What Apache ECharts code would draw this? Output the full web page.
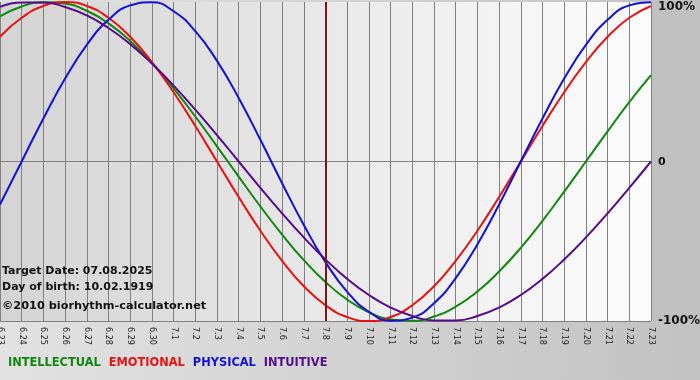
<!DOCTYPE html>
<html><head><meta charset="utf-8">
<script src="https://cdn.jsdelivr.net/npm/echarts@6/dist/echarts.min.js"></script>
<style>html,body{margin:0;padding:0;background:#d4d4d4;}#c{width:700px;height:380px;}</style>
</head><body><div id="c"></div>
<script>
const days = ['6.23','6.24','6.25','6.26','6.27','6.28','6.29','6.30','7.1','7.2','7.3','7.4','7.5','7.6','7.7','7.8','7.9','7.10','7.11','7.12','7.13','7.14','7.15','7.16','7.17','7.18','7.19','7.20','7.21','7.22','7.23'];
const intellectual = [91.0,97.2,99.9,99.0,94.5,86.6,75.6,61.8,45.8,28.2,9.5,-9.5,-28.2,-45.8,-61.8,-75.6,-86.6,-94.5,-99.0,-99.9,-97.2,-91.0,-81.5,-69.0,-54.1,-37.2,-18.9,0,18.9,37.2,54.1];
const emotional = [78.2,90.1,97.5,100,97.5,90.1,78.2,62.3,43.4,22.3,0,-22.3,-43.4,-62.3,-78.2,-90.1,-97.5,-100,-97.5,-90.1,-78.2,-62.3,-43.4,-22.3,0,22.3,43.4,62.3,78.2,90.1,97.5];
const physical = [-27.0,0,27.0,52.0,73.1,88.8,97.9,99.8,94.2,81.7,63.1,39.8,13.6,-13.6,-39.8,-63.1,-81.7,-94.2,-99.8,-97.9,-88.8,-73.1,-52.0,-27.0,0,27.0,52.0,73.1,88.8,97.9,99.8];
const intuitive = [96.9,99.7,99.7,96.9,91.6,83.7,73.6,61.4,47.6,32.5,16.5,0,-16.5,-32.5,-47.6,-61.4,-73.6,-83.7,-91.6,-96.9,-99.7,-99.7,-96.9,-91.6,-83.7,-73.6,-61.4,-47.6,-32.5,-16.5,0];
const targetDay = '7.8';
const yTicks = {'100':'100%','0':'0','-100':'-100%'};
const infoLines = ['Target Date: 07.08.2025','Day of birth: 10.02.1919','\u00a92010 biorhythm-calculator.net'];

const colors = {INTELLECTUAL:'#0f870f', EMOTIONAL:'#e81212', PHYSICAL:'#1212d4', INTUITIVE:'#560a8c'};
const FONT = 'DejaVu Sans';

function mkSeries(name, data){
  return {name, type:'line', data, smooth:0.5, symbol:'none', clip:false,
    lineStyle:{width:2, color:colors[name]}, itemStyle:{color:colors[name]}};
}
const series = [
  mkSeries('INTELLECTUAL', intellectual),
  mkSeries('EMOTIONAL', emotional),
  mkSeries('PHYSICAL', physical),
  mkSeries('INTUITIVE', intuitive)
];
series[0].markLine = {silent:true, symbol:'none', label:{show:false},
  lineStyle:{color:'#7a1616', width:2, type:'solid'}, data:[{xAxis:targetDay}]};

const chart = echarts.init(document.getElementById('c'));
chart.setOption({
  animation:false,
  graphic:[
    {type:'rect', z:-100, shape:{x:0,y:0,width:700,height:380},
     style:{fill:new echarts.graphic.LinearGradient(0,0,1,0,[{offset:0,color:'#e2e2e2'},{offset:1,color:'#c2c2c2'}])}},
    {type:'rect', z:-99, shape:{x:651,y:0,width:49,height:321}, style:{fill:'#c0c0c0'}},
    {type:'text', z:100, left:2, top:266, style:{text:infoLines[0], font:'bold 11px "DejaVu Sans"', fill:'#111'}},
    {type:'text', z:100, left:2, top:282, style:{text:infoLines[1], font:'bold 11px "DejaVu Sans"', fill:'#111'}},
    {type:'text', z:100, left:2, top:301, style:{text:infoLines[2], font:'bold 11.3px "DejaVu Sans"', fill:'#111'}}
  ],
  legend:{left:-2, top:353, icon:'rect', itemWidth:0, itemHeight:0, itemGap:3,
    itemStyle:{opacity:0}, selectedMode:false,
    textStyle:{fontFamily:FONT, fontWeight:'bold', fontSize:11.4},
    data:Object.keys(colors).map(n=>({name:n, textStyle:{color:colors[n]}}))},
  grid:{left:0, right:49, top:2, bottom:59, show:true, borderWidth:0, containLabel:false, outerBoundsMode:'none',
    backgroundColor:new echarts.graphic.LinearGradient(0,0,1,0,[{offset:0,color:'#d4d4d4'},{offset:1,color:'#fdfdfd'}])},
  xAxis:{type:'category', data:days, boundaryGap:false,
    axisLine:{show:true, lineStyle:{color:'#808080', width:1}},
    axisTick:{show:true, length:4, lineStyle:{color:'#808080'}, interval:0},
    axisLabel:{interval:0, rotate:-90, margin:6, fontFamily:FONT, fontSize:8, color:'#222', hideOverlap:false},
    splitLine:{show:true, interval:0, lineStyle:{color:'#808080', width:1}}},
  yAxis:{type:'value', position:'right', min:-100, max:100, interval:100,
    axisLine:{show:false}, axisTick:{show:false},
    splitLine:{show:true, lineStyle:{color:['#808080','#808080','rgba(0,0,0,0)'], width:1}},
    axisLabel:{margin:7, fontFamily:FONT, fontWeight:'bold', fontSize:12, color:'#111',
      formatter:v=> v===100 ? '{t|'+yTicks['100']+'}' : v===0 ? '{z|'+yTicks['0']+'}' : yTicks[String(v)],
      rich:{t:{fontFamily:FONT, fontWeight:'bold', fontSize:12, color:'#111', padding:[10,0,0,0]},
            z:{fontFamily:FONT, fontWeight:'bold', fontSize:11, color:'#111', padding:[2,0,0,0]}}}},
  series
});
</script>
</body></html>
